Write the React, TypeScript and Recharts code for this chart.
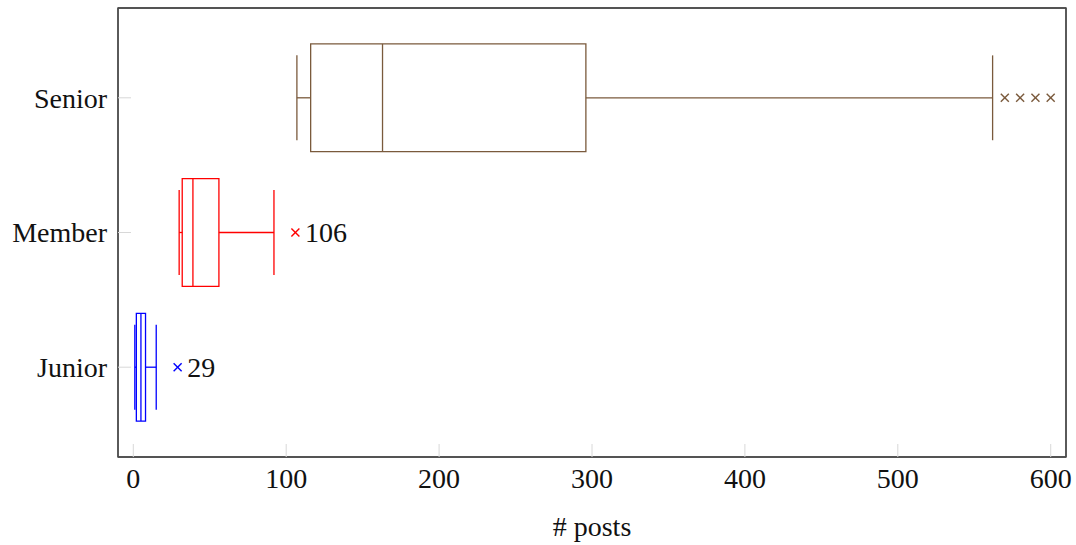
import * as React from "react"
import {
  ComposedChart,
  XAxis,
  YAxis,
  Scatter,
  ReferenceArea,
  ReferenceLine,
  LabelList,
} from "recharts"

document.body.style.margin = "0"

// boxplot statistics (# posts)
const categories = ["Junior", "Member", "Senior"]
const lowerWhisker = [1, 30, 107]
const lowerQuartile = [2, 32, 116]
const median = [5, 39, 163]
const upperQuartile = [8, 56, 296]
const upperWhisker = [15, 92, 562]
const outliers = [[29], [106], [570, 580, 590, 600]]
const labelOutliers = [true, true, false]
const boxColors = ["#0000ff", "#ff0000", "#7a5a3c"]
const xTicks = [0, 100, 200, 300, 400, 500, 600]
const yTicks = [1, 2, 3]

const serif = "Liberation Serif"
const axisColor = "#4a4a4a"
const tickColor = "#d8d8d8"
const BOX_HALF = 0.4
const CAP_HALF = 0.315
const X_DOMAIN = [-10, 610]
const Y_DOMAIN = [1 / 3, 11 / 3]

const Cross = (props: any) => {
  const { cx, cy, fill } = props
  const s = 4
  return (
    <g stroke={fill} strokeWidth={1.4}>
      <line x1={cx - s} y1={cy - s} x2={cx + s} y2={cy + s} />
      <line x1={cx - s} y1={cy + s} x2={cx + s} y2={cy - s} />
    </g>
  )
}

export default function App() {
  const tickFont = { fill: "#111", fontSize: 28, fontFamily: serif }
  const blank = () => ""

  return (
    <div style={{ width: 1076, height: 545, background: "#fff" }}>
      <ComposedChart
        width={1076}
        height={545}
        margin={{ top: 7, right: 9, left: 0, bottom: 0 }}
      >
        <XAxis
          type="number"
          dataKey="x"
          domain={X_DOMAIN}
          ticks={xTicks}
          height={88}
          tick={tickFont}
          tickSize={-13}
          tickMargin={24}
          tickLine={{ stroke: tickColor }}
          axisLine={{ stroke: axisColor, strokeWidth: 1.4 }}
          label={{
            value: "# posts",
            position: "insideBottom",
            offset: 9,
            fill: "#111",
            fontSize: 28,
            fontFamily: serif,
          }}
        />
        <XAxis
          xAxisId="top"
          orientation="top"
          type="number"
          domain={X_DOMAIN}
          ticks={xTicks}
          height={1}
          tickFormatter={blank}
          tickSize={-13}
          tickLine={{ stroke: tickColor }}
          axisLine={{ stroke: axisColor, strokeWidth: 1.4 }}
        />
        <YAxis
          type="number"
          dataKey="y"
          domain={Y_DOMAIN}
          ticks={yTicks}
          width={118}
          tick={tickFont}
          tickFormatter={(v: number) => categories[v - 1]}
          tickSize={-13}
          tickMargin={24}
          tickLine={{ stroke: tickColor }}
          axisLine={{ stroke: axisColor, strokeWidth: 1.4 }}
        />
        <YAxis
          yAxisId="right"
          orientation="right"
          type="number"
          domain={Y_DOMAIN}
          ticks={yTicks}
          width={1}
          tickFormatter={blank}
          tickSize={-13}
          tickLine={{ stroke: tickColor }}
          axisLine={{ stroke: axisColor, strokeWidth: 1.4 }}
        />

        {/* frame around the plot area */}
        <ReferenceArea
          x1={X_DOMAIN[0]}
          x2={X_DOMAIN[1]}
          y1={Y_DOMAIN[0]}
          y2={Y_DOMAIN[1]}
          fill="none"
          stroke={axisColor}
          strokeWidth={1.4}
        />

        {categories.map((c, i) => {
          const y = i + 1
          const color = boxColors[i]
          return (
            <React.Fragment key={c}>
              <ReferenceArea
                x1={lowerQuartile[i]}
                x2={upperQuartile[i]}
                y1={y - BOX_HALF}
                y2={y + BOX_HALF}
                fill="none"
                stroke={color}
                strokeWidth={1.3}
              />
              <ReferenceLine
                segment={[
                  { x: median[i], y: y - BOX_HALF },
                  { x: median[i], y: y + BOX_HALF },
                ]}
                stroke={color}
                strokeWidth={1.3}
              />
              <ReferenceLine
                segment={[
                  { x: lowerWhisker[i], y },
                  { x: lowerQuartile[i], y },
                ]}
                stroke={color}
                strokeWidth={1.3}
              />
              <ReferenceLine
                segment={[
                  { x: upperQuartile[i], y },
                  { x: upperWhisker[i], y },
                ]}
                stroke={color}
                strokeWidth={1.3}
              />
              <ReferenceLine
                segment={[
                  { x: lowerWhisker[i], y: y - CAP_HALF },
                  { x: lowerWhisker[i], y: y + CAP_HALF },
                ]}
                stroke={color}
                strokeWidth={1.3}
              />
              <ReferenceLine
                segment={[
                  { x: upperWhisker[i], y: y - CAP_HALF },
                  { x: upperWhisker[i], y: y + CAP_HALF },
                ]}
                stroke={color}
                strokeWidth={1.3}
              />
            </React.Fragment>
          )
        })}

        {categories.map((c, i) => (
          <Scatter
            key={"out-" + c}
            data={outliers[i].map((v) => ({ x: v, y: i + 1 }))}
            fill={boxColors[i]}
            shape={Cross}
            isAnimationActive={false}
          >
            {labelOutliers[i] && (
              <LabelList
                dataKey="x"
                position="right"
                offset={5}
                fill="#111"
                fontSize={28}
                fontFamily={serif}
              />
            )}
          </Scatter>
        ))}
      </ComposedChart>
    </div>
  )
}
